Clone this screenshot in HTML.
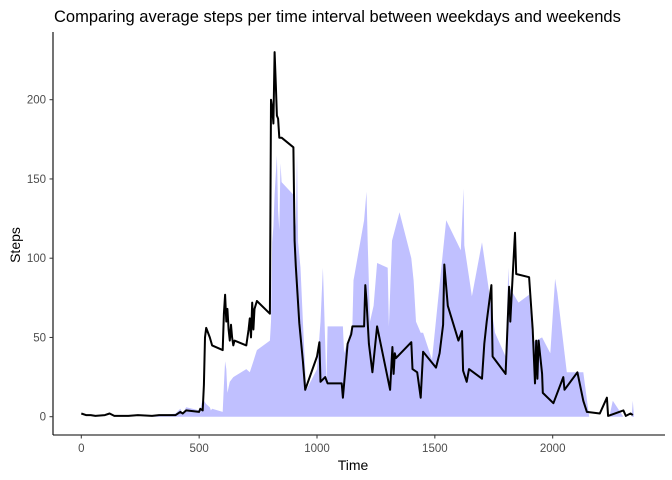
<!DOCTYPE html>
<html><head><meta charset="utf-8"><style>
body{margin:0;background:#fff}
svg{display:block;font-family:"Liberation Sans",Arial,sans-serif}
</style></head><body>
<svg id="c" width="672" height="480">
<text x="54" y="22" font-size="16.5" fill="#000">Comparing average steps per time interval between weekdays and weekends</text>
<g id="plot"></g>
<line x1="53" y1="32" x2="53" y2="435" stroke="#000" stroke-width="1.1"/>
<line x1="53" y1="435" x2="665" y2="435" stroke="#000" stroke-width="1.1"/>
<g id="axes"></g>
<text x="353" y="470" font-size="14" text-anchor="middle">Time</text>
<text transform="translate(20,245) rotate(-90)" font-size="14" text-anchor="middle">Steps</text>
</svg>
<script>
const xTicks=[0,500,1000,1500,2000];
const yTicks=[0,50,100,150,200];
const weekdayTime=[0,20,40,60,100,120,140,200,240,300,
330,400,420,430,445,500,505,515,520,525,
530,545,555,600,605,610,615,620,625,630,
635,640,645,650,700,710,715,720,725,730,
735,745,800,805,810,815,820,825,830,835,
840,850,900,905,910,925,940,950,1000,1010,
1015,1035,1045,1105,1110,1130,1145,1150,1200,1205,
1210,1220,1235,1255,1310,1320,1325,1330,1335,1400,
1405,1425,1440,1450,1505,1520,1535,1540,1555,1600,
1615,1620,1635,1645,1700,1710,1720,1740,1745,1800,
1815,1820,1825,1840,1845,1900,1915,1925,1930,1935,
1940,1955,1958,2003,2045,2050,2105,2130,2145,2200,
2230,2235,2300,2310,2330,2340];
const weekdayVals=[2,1,1,0.5,1,2,0.5,0.5,1,0.5,
1,1,3,2,4,3,5,4,20,50,
56,50,45,42,65,77,60,68,55,48,
58,50,45,48,45,55,62,50,72,55,
68,73,65,200,195,185,230,210,190,188,
176,176,170,111,95,59,35,17,38,47,
22,25,21,21,12,46,52,57,57,83,
73,46,28,57,17,44,27,40,37,47,
30,28,12,41,31,40,58,96,70,48,
54,29,22,30,24,46,60,83,38,27,
82,60,75,116,90,88,55,21,48,24,
48,27,15,8.5,25,17,28,10,3,2,
12,0.5,4,0.5,2,1];
const weekendTime=[0,100,200,300,400,420,430,445,500,505,510,515,520,530,545,550,555,600,605,610,615,620,630,645,700,715,730,745,800,805,810,815,820,830,835,840,845,850,900,910,915,920,930,940,950,955,1000,1015,1025,1030,1040,1045,1110,1115,1150,1155,1200,1210,1215,1225,1240,1255,1300,1305,1318,1350,1400,1410,1420,1440,1450,1488,1535,1548,1610,1622,1625,1657,1700,1755,1800,1812,1815,1855,1900,1915,1955,1990,2010,2020,2060,2130,2155,2240,2255,2300,2335,2340,2345];
const weekendVals=[0,0,0,0,2,5,2,6,4,2,8,11,10,8,6,4,5,3,20,35,30,15,22,25,30,28,35,42,48,60,110,120,140,165,130,118,160,148,140,120,166,110,94,60,30,17,30,60,94,70,20,57,57,40,58,86,124,142,110,60,70,97,94,57,111,129,100,86,60,53,53,36,105,124,105,144,108,76,110,53,38,94,82,72,77,47,50,40,87,78,28,28,0,0,10,0,0,10,0];
const X0=81.3,KX=0.2357,Y0=416.7,KY=1.585;
const sx=v=>X0+v*KX, sy=v=>Y0-v*KY;
const NS='http://www.w3.org/2000/svg';
const plot=document.getElementById('plot'),axes=document.getElementById('axes');
let d='M'+sx(weekendTime[0])+','+sy(0);
weekendTime.forEach((t,i)=>{d+=' L'+sx(t).toFixed(1)+','+sy(weekendVals[i]).toFixed(1);});
d+=' L'+sx(weekendTime[weekendTime.length-1])+','+sy(0)+' Z';
const area=document.createElementNS(NS,'path');
area.setAttribute('d',d);area.setAttribute('fill','#c0c0ff');


plot.appendChild(area);
const line=document.createElementNS(NS,'polyline');
line.setAttribute('points',weekdayTime.map((t,i)=>sx(t).toFixed(1)+','+sy(weekdayVals[i]).toFixed(1)).join(' '));
line.setAttribute('fill','none');line.setAttribute('stroke','#000');line.setAttribute('stroke-width','2');line.setAttribute('stroke-linejoin','round');


plot.appendChild(line);
xTicks.forEach(v=>{
 const l=document.createElementNS(NS,'line');
 l.setAttribute('x1',sx(v));l.setAttribute('x2',sx(v));l.setAttribute('y1',435);l.setAttribute('y2',438.5);l.setAttribute('stroke','#333');
 
 
 axes.appendChild(l);
 const t=document.createElementNS(NS,'text');
 t.setAttribute('x',sx(v));t.setAttribute('y',452);t.setAttribute('text-anchor','middle');t.setAttribute('font-size','11.5');t.setAttribute('fill','#4d4d4d');
 t.textContent=v;
 
 
 axes.appendChild(t);
});
yTicks.forEach(v=>{
 const l=document.createElementNS(NS,'line');
 l.setAttribute('x1',49.5);l.setAttribute('x2',53);l.setAttribute('y1',sy(v));l.setAttribute('y2',sy(v));l.setAttribute('stroke','#333');
 
 
 axes.appendChild(l);
 const t=document.createElementNS(NS,'text');
 t.setAttribute('x',46);t.setAttribute('y',sy(v)+4);t.setAttribute('text-anchor','end');t.setAttribute('font-size','11.5');t.setAttribute('fill','#4d4d4d');
 t.textContent=v;
 
 
 axes.appendChild(t);
});
</script>
</body></html>
